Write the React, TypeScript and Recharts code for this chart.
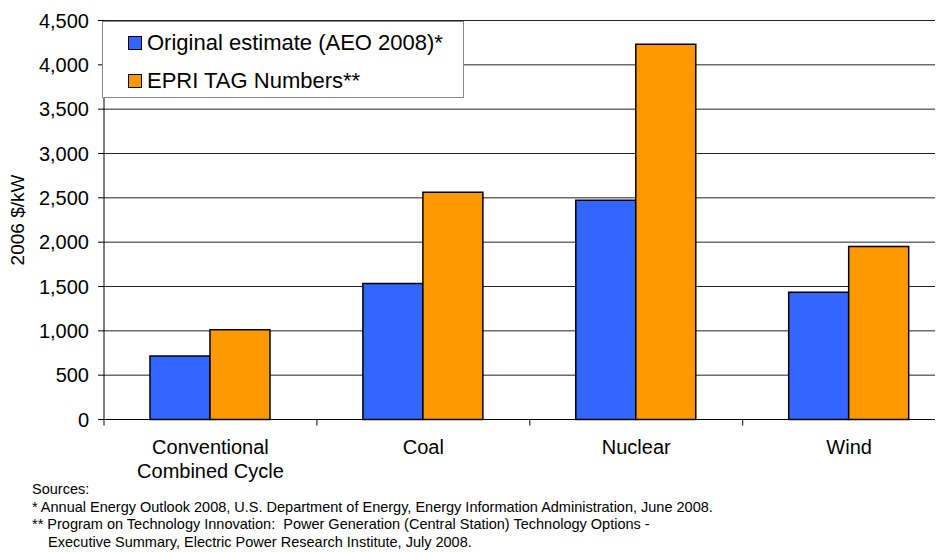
import { Bar, BarChart, CartesianGrid, XAxis, YAxis } from 'recharts';

const categories = ['Conventional\nCombined Cycle', 'Coal', 'Nuclear', 'Wind'];
const aeoEstimate = [717, 1534, 2472, 1436];
const epriTag = [1012, 2563, 4232, 1950];
const yTicks = [0, 500, 1000, 1500, 2000, 2500, 3000, 3500, 4000, 4500];

const seriesNames = ['Original estimate (AEO 2008)*', 'EPRI TAG Numbers**'];
const seriesColors = ['#3366FF', '#FF9900'];

const sourceLines = [
  'Sources:',
  '* Annual Energy Outlook 2008, U.S. Department of Energy, Energy Information Administration, June 2008.',
  '** Program on Technology Innovation:  Power Generation (Central Station) Technology Options -',
  '    Executive Summary, Electric Power Research Institute, July 2008.',
];

const data = categories.map((name, i) => ({ name, aeo: aeoEstimate[i], epri: epriTag[i] }));

const FONT = '"Liberation Sans", Arial, sans-serif';

function CategoryTick(props: any) {
  const { x, y, payload } = props;
  const half = payload?.offset ?? 106.4;
  const lines = String(payload.value).split('\n');
  return (
    <g>
      <line x1={x - half} x2={x - half} y1={y} y2={y + 6} stroke="#000" />
      {lines.map((line, i) => (
        <text key={i} x={x} y={y + 34.5 + i * 24} textAnchor="middle" fontSize={20} fontFamily={FONT} fill="#000">
          {line}
        </text>
      ))}
    </g>
  );
}

function LegendBox() {
  return (
    <div
      style={{
        position: 'absolute',
        left: 94,
        top: 13,
        width: 362,
        height: 77,
        border: '1px solid #888',
        background: '#fff',
        fontFamily: FONT,
        fontSize: 22,
        color: '#000',
        boxSizing: 'border-box',
        paddingLeft: 25,
        paddingTop: 2,
      }}
    >
      {seriesNames.map((name, i) => (
        <div key={name} style={{ display: 'flex', alignItems: 'center', height: 38 }}>
          <span
            style={{
              width: 12,
              height: 12,
              flex: 'none',
              background: seriesColors[i],
              border: '1px solid #000',
              marginRight: 5,
            }}
          />
          <span>{name}</span>
        </div>
      ))}
    </div>
  );
}

export default function App() {
  return (
    <div style={{ position: 'relative', width: 935, height: 544, overflow: 'hidden', background: '#fff' }}>
      <BarChart
        width={950}
        height={482}
        data={data}
        margin={{ top: 12.5, right: 2.4, left: 0, bottom: 0.5 }}
        barGap={0}
        barCategoryGap="21.6%"
      >
        <CartesianGrid vertical={false} stroke="#222" />
        <XAxis
          dataKey="name"
          height={70}
          interval={0}
          tickLine={false}
          tickSize={0}
          tickMargin={0}
          axisLine={{ stroke: '#000' }}
          tick={<CategoryTick />}
        />
        <YAxis
          width={96}
          domain={[0, 4500]}
          ticks={yTicks}
          interval={0}
          tickSize={6}
          tickMargin={9}
          axisLine={{ stroke: '#000' }}
          tickLine={{ stroke: '#000' }}
          tick={{ fill: '#000', fontSize: 20, fontFamily: FONT }}
          tickFormatter={(v: number) => v.toLocaleString('en-US')}
        />
        <Bar dataKey="aeo" name={seriesNames[0]} fill={seriesColors[0]} stroke="#000" strokeWidth={1.5} isAnimationActive={false} />
        <Bar dataKey="epri" name={seriesNames[1]} fill={seriesColors[1]} stroke="#000" strokeWidth={1.5} isAnimationActive={false} />
      </BarChart>

      <LegendBox />

      <div
        style={{
          position: 'absolute',
          left: 10,
          top: 212,
          transform: 'translate(-50%, -50%) rotate(-90deg)',
          fontFamily: FONT,
          fontSize: 19,
          whiteSpace: 'nowrap',
          color: '#000',
        }}
      >
        2006 $/kW
      </div>

      <div style={{ position: 'absolute', left: 24, top: 473, fontFamily: FONT, fontSize: 14.5, lineHeight: '17.5px', color: '#000' }}>
        {sourceLines.map((line, i) => (
          <div key={i} style={{ whiteSpace: 'pre' }}>
            {line}
          </div>
        ))}
      </div>
    </div>
  );
}
